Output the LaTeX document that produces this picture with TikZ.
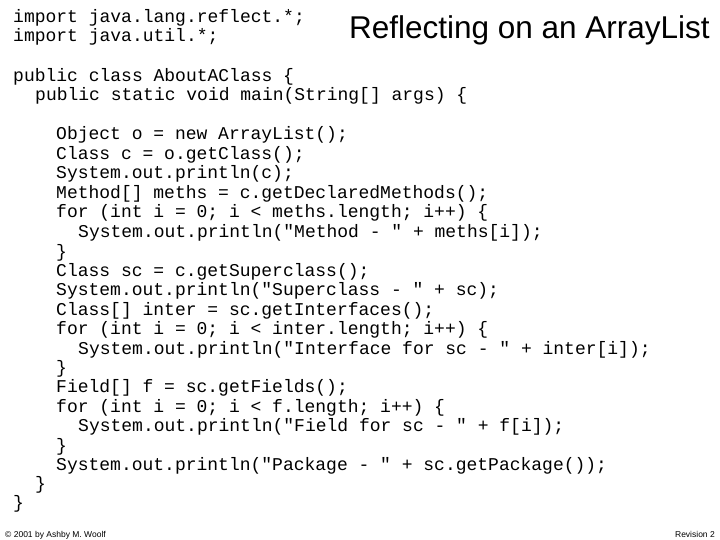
\documentclass[tikz,border=0pt]{standalone}
\usepackage{fontspec}
\setmainfont{Liberation Sans}
\setmonofont{Liberation Mono}
\begin{document}
\begin{tikzpicture}[x=1pt,y=1pt,
  code/.style={anchor=base west,inner sep=0pt,font=\ttfamily\fontsize{18}{18}\selectfont}]
\useasboundingbox (0,0) rectangle (720,-540);
\fill[white] (0,0) rectangle (720,-540);
\node[anchor=base east,inner sep=0pt,font=\fontsize{31.5}{32}\selectfont] (title) at (710,-39) {Reflecting on an ArrayList};
\node[code] (a1) at (13,-23) {import java.lang.reflect.*;};
\node[code] (a2) at (13,-42) {import java.util.*;};
\node[code] (a3) at (13,-82) {public class AboutAClass \{};
\node[code] (a4) at (35,-101) {public static void main(String[] args) \{};
\node[code] (b1) at (56,-140) {Object o = new ArrayList();};
\node[code] (b2) at (56,-160) {Class c = o.getClass();};
\node[code] (b3) at (56,-179) {System.out.println(c);};
\node[code] (b4) at (56,-199) {Method[] meths = c.getDeclaredMethods();};
\node[code] (b5) at (56,-218) {for (int i = 0; i < meths.length; i++) \{};
\node[code] (b6) at (78,-237) {System.out.println("Method - " + meths[i]);};
\node[code] (b7) at (56,-257) {\}};
\node[code] (b8) at (56,-276) {Class sc = c.getSuperclass();};
\node[code] (b9) at (56,-295) {System.out.println("Superclass - " + sc);};
\node[code] (b10) at (56,-315) {Class[] inter = sc.getInterfaces();};
\node[code] (b11) at (56,-334) {for (int i = 0; i < inter.length; i++) \{};
\node[code] (b12) at (78,-354) {System.out.println("Interface for sc - " + inter[i]);};
\node[code] (b13) at (56,-373) {\}};
\node[code] (b14) at (56,-392) {Field[] f = sc.getFields();};
\node[code] (b15) at (56,-412) {for (int i = 0; i < f.length; i++) \{};
\node[code] (b16) at (78,-431) {System.out.println("Field for sc - " + f[i]);};
\node[code] (b17) at (56,-451) {\}};
\node[code] (b18) at (56,-470) {System.out.println("Package - " + sc.getPackage());};
\node[code] (b19) at (35,-489) {\}};
\node[code] (b20) at (13,-508) {\}};
\node[anchor=base west,inner sep=0pt,font=\fontsize{8.5}{9}\selectfont] (f1) at (5,-537) {© 2001 by Ashby M. Woolf};
\node[anchor=base east,inner sep=0pt,font=\fontsize{8.5}{9}\selectfont] (f2) at (715,-537) {Revision 2};
\end{tikzpicture}
\end{document}
